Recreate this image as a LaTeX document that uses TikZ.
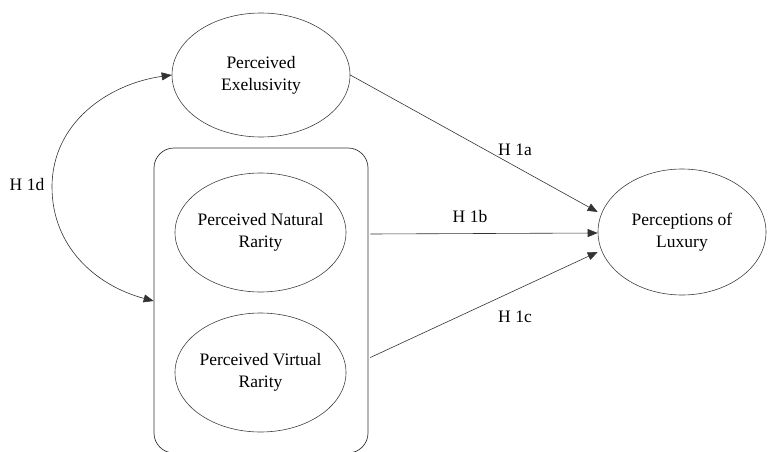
\documentclass[tikz,border=0pt]{standalone}
\usepackage{fontspec}
\setmainfont{Liberation Serif}
\usepackage{tikz}
\usetikzlibrary{arrows.meta,shapes.geometric,calc,positioning}
\tikzset{%
       latent/.style = { ellipse, draw=black!75, line width=0.6pt, inner xsep=-4pt, inner ysep=0pt, align=center },
          grp/.style = { rectangle, draw=black!80, line width=0.7pt, rounded corners=20pt },
         path/.style = { draw=black!80, line width=0.6pt, -{Triangle[length=10pt,width=8pt]} },
        cpath/.style = { path, {Triangle[length=10pt,width=8pt]}-{Triangle[length=10pt,width=8pt]} },
          hyp/.style = { inner sep=0pt }
}

\begin{document}
\begin{tikzpicture}[x=1pt,y=-1pt,font=\fontsize{17.5}{22}\selectfont]
\useasboundingbox (0,0) rectangle (768,452);
% constructs
\node[grp, minimum width=214, minimum height=305] (box) at (261,300.5) {};
\node[latent, minimum width=178, minimum height=124] (exc) at (261,75) {Perceived\\Exelusivity};
\node[latent, minimum width=171, minimum height=119] (nat) at (260.5,232.5) {Perceived Natural\\Rarity};
\node[latent, minimum width=171, minimum height=119] (vir) at (260.5,372.5) {Perceived Virtual\\Rarity};
\node[latent, minimum width=168, minimum height=126] (lux) at (682,232) {Perceptions of\\Luxury};
% hypotheses
\draw[path] (exc.east) -- ($(lux.west)+(0,-20)$);
\draw[path] ($(box.east|-nat)+(2,1.5)$) -- ($(lux.west)+(0,1)$);
\draw[path] ($(box.east|-vir)+(2,-15)$) -- ($(lux.west)+(0,20)$);
\coordinate (bend) at (52,187);
\draw[cpath] (exc.west) to[out=188,in=90] (bend) to[out=-90,in=165] ($(box.west)+(0,0.5)$);
\node[hyp] (h1a) at (515,150) {H 1a};
\node[hyp] (h1b) at (470,217) {H 1b};
\node[hyp] (h1c) at (515,317) {H 1c};
\node[hyp] (h1d) at (27,185) {H 1d};
\end{tikzpicture}
\end{document}
